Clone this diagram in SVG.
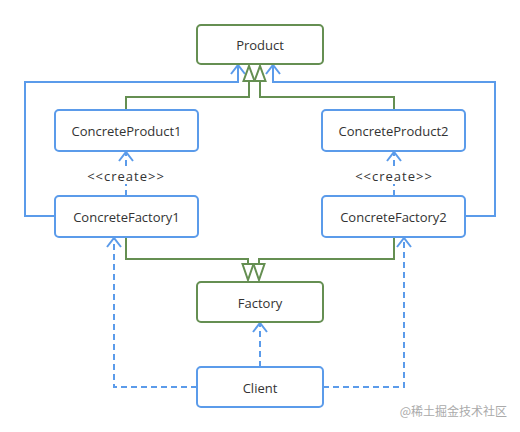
<svg xmlns="http://www.w3.org/2000/svg" width="520" height="432" viewBox="0 0 520 432">
<style>
.blue{fill:#fff;stroke:#5b9bea;stroke-width:2}
.green{fill:#fff;stroke:#658f52;stroke-width:2}
.lbl{font-family:"Open Sans","Noto Sans",sans-serif;font-size:13px;fill:#333;text-anchor:middle;dominant-baseline:central}
.bl{fill:none;stroke:#5b9bea;stroke-width:2}
.bd{fill:none;stroke:#5b9bea;stroke-width:2;stroke-dasharray:6 4}
.gl{fill:none;stroke:#658f52;stroke-width:2}
.tri{fill:#fff;stroke:#658f52;stroke-width:2;stroke-linejoin:miter}
</style>
<defs>
<marker id="open" markerUnits="userSpaceOnUse" markerWidth="20" markerHeight="20" refX="0" refY="0" orient="auto" overflow="visible">
<path d="M-9,-7 L0,0 L-9,7" fill="none" stroke="#5b9bea" stroke-width="2"/>
</marker>
</defs>
<rect width="520" height="432" fill="#fff"/>
<g id="connectors">
<path class="bl" d="M55,216 H25 V82 H238 V65" marker-end="url(#open)"/>
<path class="bl" d="M465,216 H495 V82 H273 V65" marker-end="url(#open)"/>
<path class="gl" d="M126,110 V97 H249 V81"/>
<path class="gl" d="M394,110 V97 H260 V81"/>
<polygon class="tri" points="243.5,81 254.5,81 249,66"/>
<polygon class="tri" points="254.5,81 265.5,81 260,66"/>
<path class="gl" d="M126,237 V259 H248 V264"/>
<path class="gl" d="M394,237 V259 H259 V264"/>
<polygon class="tri" points="242.5,264 253.5,264 248,280"/>
<polygon class="tri" points="253.5,264 264.5,264 259,280"/>
<path class="bd" d="M126,196 V152" marker-end="url(#open)"/>
<path class="bd" d="M394,196 V152" marker-end="url(#open)"/>
<path class="bd" d="M197,387 H114 V238" marker-end="url(#open)"/>
<path class="bd" d="M323,387 H404 V238" marker-end="url(#open)"/>
<path class="bd" d="M260,367 V323" marker-end="url(#open)"/>
<rect x="86" y="168" width="80" height="16" fill="#fff"/>
<rect x="354" y="168" width="80" height="16" fill="#fff"/>
<text class="lbl" x="126" y="176" letter-spacing="1">&lt;&lt;create&gt;&gt;</text>
<text class="lbl" x="394" y="176" letter-spacing="1">&lt;&lt;create&gt;&gt;</text>
</g>
<g id="product"><rect class="green" x="197" y="25" width="126" height="39" rx="4"/><text class="lbl" x="260" y="45">Product</text></g>
<g id="concreteProduct1"><rect class="blue" x="55" y="110" width="143" height="41" rx="4"/><text class="lbl" x="126.5" y="131">ConcreteProduct1</text></g>
<g id="concreteProduct2"><rect class="blue" x="322" y="110" width="143" height="41" rx="4"/><text class="lbl" x="393.5" y="131">ConcreteProduct2</text></g>
<g id="concreteFactory1"><rect class="blue" x="55" y="196" width="143" height="41" rx="4"/><text class="lbl" x="126.5" y="217">ConcreteFactory1</text></g>
<g id="concreteFactory2"><rect class="blue" x="322" y="196" width="143" height="41" rx="4"/><text class="lbl" x="393.5" y="217">ConcreteFactory2</text></g>
<g id="factory"><rect class="green" x="197" y="282" width="126" height="40" rx="4"/><text class="lbl" x="260" y="303">Factory</text></g>
<g id="client"><rect class="blue" x="197" y="367" width="126" height="40" rx="4"/><text class="lbl" x="260" y="388">Client</text></g>
<text x="507" y="416" font-family="'Noto Sans CJK SC',sans-serif" font-size="12" fill="#aaa" text-anchor="end">@稀土掘金技术社区</text>
</svg>
